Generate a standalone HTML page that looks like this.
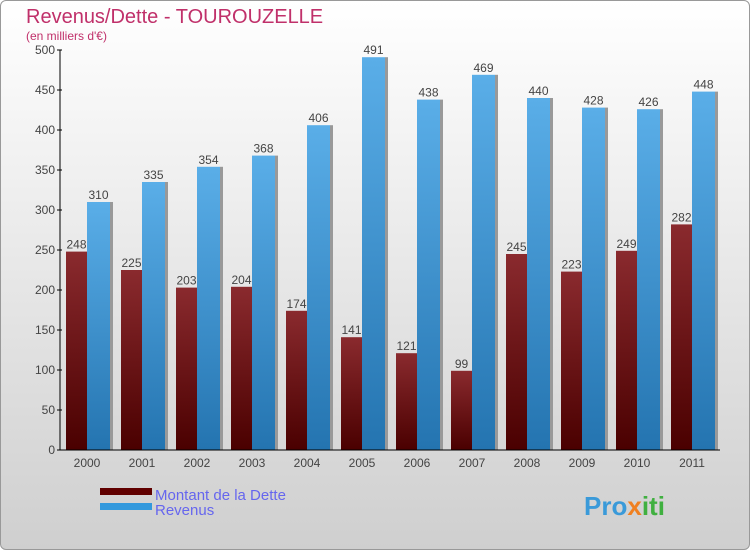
<!DOCTYPE html>
<html><head><meta charset="utf-8"><style>
body{margin:0;width:750px;height:550px;overflow:hidden;font-family:"Liberation Sans",sans-serif}
#c{position:absolute;left:0;top:0;width:748px;height:548px;border:1px solid #999;border-radius:6px;background:linear-gradient(#ffffff,#cfcfcf)}
</style></head><body>
<div id="c"></div>
<svg id="s" width="750" height="550" style="position:absolute;left:0;top:0">
<defs>
<linearGradient id="gd" x1="0" y1="0" x2="0" y2="1"><stop offset="0" stop-color="#8a2a2e"/><stop offset="1" stop-color="#4a0000"/></linearGradient>
<linearGradient id="gr" x1="0" y1="0" x2="0" y2="1"><stop offset="0" stop-color="#5aaee8"/><stop offset="1" stop-color="#2474b0"/></linearGradient>
</defs>
<text x="26" y="23" font-size="20" fill="#c0306a">Revenus/Dette - TOUROUZELLE</text>
<text x="26" y="40" font-size="12" fill="#c0306a">(en milliers d'€)</text>
<g id="bars"></g>
<g id="axes"></g>
<rect x="100" y="488" width="52" height="7" fill="#600000"/>
<rect x="100" y="503" width="52" height="7" fill="#3399dd"/>
<text x="155" y="500" font-size="15" fill="#6666ee">Montant de la Dette</text>
<text x="155" y="515" font-size="15" fill="#6666ee">Revenus</text>
<text x="584" y="515" font-size="26" font-weight="bold" fill="#3a9ad9">Pro<tspan fill="#f08020">x</tspan><tspan fill="#40b040">iti</tspan></text>
</svg>
<script>
const years=["2000","2001","2002","2003","2004","2005","2006","2007","2008","2009","2010","2011"];
const dette=[248,225,203,204,174,141,121,99,245,223,249,282];
const revenus=[310,335,354,368,406,491,438,469,440,428,426,448];
const ticks=[0,50,100,150,200,250,300,350,400,450,500];
const NS="http://www.w3.org/2000/svg";
const y=v=>450-v*0.8;
const xg=i=>66+i*55;
const bars=document.getElementById('bars'),axes=document.getElementById('axes');
function mk(p,t,a){const e=document.createElementNS(NS,t);for(const k in a)e.setAttribute(k,a[k]);p.appendChild(e);return e;}
years.forEach((yr,i)=>{
 const x=xg(i);
 let sh=mk(bars,'rect',{x:x+21,y:y(dette[i]),width:3,height:450-y(dette[i]),fill:'#999'});
 
 
 let b=mk(bars,'rect',{x:x,y:y(dette[i]),width:21,height:450-y(dette[i]),fill:'url(#gd)'});
 
 
 let sh2=mk(bars,'rect',{x:x+44,y:y(revenus[i]),width:3,height:450-y(revenus[i]),fill:'#999'});
 
 
 let r=mk(bars,'rect',{x:x+21,y:y(revenus[i]),width:23,height:450-y(revenus[i]),fill:'url(#gr)'});
 
 
 let t1=mk(bars,'text',{x:x+10.5,y:y(dette[i])-3,'font-size':12,fill:'#444','text-anchor':'middle'});t1.textContent=dette[i];
 
 
 let t2=mk(bars,'text',{x:x+32.5,y:y(revenus[i])-3,'font-size':12,fill:'#444','text-anchor':'middle'});t2.textContent=revenus[i];
 
 
 let xl=mk(axes,'text',{x:x+21,y:467,'font-size':12,fill:'#444','text-anchor':'middle'});xl.textContent=yr;
 
 
});
mk(axes,'line',{x1:60,y1:50,x2:60,y2:450,stroke:'#000'});
mk(axes,'line',{x1:60,y1:450,x2:720,y2:450,stroke:'#000'});
ticks.forEach(t=>{
 mk(axes,'line',{x1:57,y1:y(t),x2:62,y2:y(t),stroke:'#000'});
 let l=mk(axes,'text',{x:55,y:y(t)+4,'font-size':12,fill:'#444','text-anchor':'end'});l.textContent=t;
 
 
});
</script>
</body></html>
